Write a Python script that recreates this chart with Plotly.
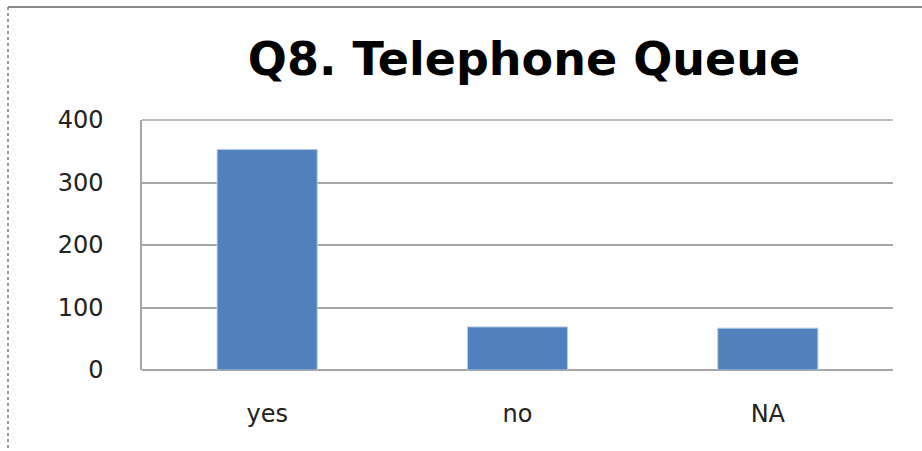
import plotly.graph_objects as go

categories = ["yes", "no", "NA"]
values = [353, 69, 67]
y_ticks = [0, 100, 200, 300, 400]
title_text = "Q8. Telephone Queue"

W, H = 922, 451
ml, mr, mt, mb = 142, 29, 120, 81
pw, ph = W - ml - mr, H - mt - mb

def px_x(p):
    return (p - ml) / pw

def px_y(p):
    return (H - mb - p) / ph

fig = go.Figure(go.Bar(
    x=categories, y=values,
    marker=dict(color="#4f81bd", line=dict(color="#b9cde5", width=1)),
    width=0.4,
))

grid = "#a6a6a6"
fig.update_layout(
    width=W, height=H,
    margin=dict(l=ml, r=mr, t=mt, b=mb),
    paper_bgcolor="white", plot_bgcolor="white",
    showlegend=False,
    title=dict(text="<b>" + title_text + "</b>", x=px_x(524), xanchor="center",
               xref="paper", y=1 - 59 / H, yanchor="middle",
               font=dict(family="DejaVu Sans", size=46, color="#000000")),
    xaxis=dict(showgrid=False, showline=False, ticks="",
               tickfont=dict(family="DejaVu Sans", size=24, color="#222222"),
               ticklabelstandoff=27),
    yaxis=dict(range=[0, 400], tickvals=y_ticks, showgrid=True, gridcolor=grid,
               gridwidth=1.5, zeroline=True, zerolinecolor=grid, zerolinewidth=2,
               showline=True, linecolor=grid, linewidth=1.5, ticks="",
               tickfont=dict(family="DejaVu Sans", size=24, color="#222222"),
               ticklabelstandoff=32),
    shapes=[
        dict(type="line", xref="paper", yref="paper", x0=px_x(8), x1=px_x(8),
             y0=px_y(7), y1=px_y(460), line=dict(color="#9a9a9a", width=2, dash="dot")),
        dict(type="line", xref="paper", yref="paper", x0=px_x(8), x1=px_x(930),
             y0=px_y(7), y1=px_y(7), line=dict(color="#8a8a8a", width=2)),
        dict(type="line", xref="paper", yref="paper", x0=0, x1=1,
             y0=1, y1=1, line=dict(color=grid, width=1.5)),
    ],
)

fig.write_html("out.html")
